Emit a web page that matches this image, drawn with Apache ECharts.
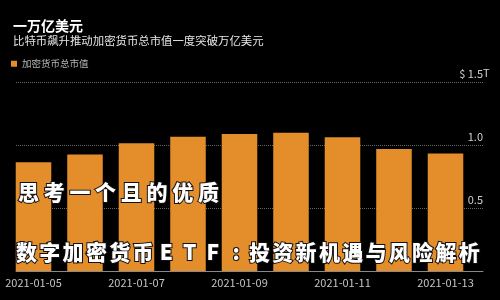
<!DOCTYPE html>
<html>
<head>
<meta charset="utf-8">
<script src="https://cdn.jsdelivr.net/npm/echarts@6/dist/echarts.min.js"></script>
<style>
html,body{margin:0;padding:0;background:#000;}
#c{width:500px;height:300px;}
</style>
</head>
<body>
<div id="c"></div>
<script>
var categories = ['2021-01-05','2021-01-06','2021-01-07','2021-01-08','2021-01-09','2021-01-10','2021-01-11','2021-01-12','2021-01-13'];
var marketCap = [0.865, 0.928, 1.016, 1.068, 1.090, 1.100, 1.064, 0.971, 0.936];
var seriesName = '加密货币总市值';
var yTicks = [0, 0.5, 1.0, 1.5];
var titleText = '一万亿美元';
var subtitleText = '比特币飙升推动加密货币总市值一度突破万亿美元';
var overlay1 = '思考一个且的优质';
var overlay2 = '数字加密货币ETF:投资新机遇与风险解析';

var font = '"Noto Sans CJK SC", "Noto Sans", sans-serif';

function spacedText(str, x0, yMid, step, size) {
  var chars = Array.from(str);
  return {
    type: 'group', z: 20,
    children: chars.map(function (ch, i) {
      return {
        type: 'text', x: x0 + size / 2 + i * step, y: yMid, z: 20,
        style: {text: ch, fill: '#fff', font: '900 ' + size + 'px ' + font,
          align: 'center', verticalAlign: 'middle',
          stroke: '#111', lineWidth: 2}
      };
    })
  };
}

var chart = echarts.init(document.getElementById('c'));
var yMax = yTicks[yTicks.length - 1];
chart.setOption({
  backgroundColor: '#000',
  animation: false,
  title: {
    text: titleText,
    subtext: subtitleText,
    left: 8, top: 14, itemGap: 2,
    textStyle: {color: '#fff', fontSize: 14, fontWeight: 'bold', fontFamily: font},
    subtextStyle: {color: '#e6e6e6', fontSize: 11.4, fontFamily: font}
  },
  legend: {
    data: [seriesName],
    left: 6, top: 54,
    icon: 'rect', itemWidth: 6, itemHeight: 6, itemGap: 4,
    textStyle: {color: '#b5b5b5', fontSize: 9.5, fontFamily: font}
  },
  grid: [
    {left: 7.75, right: 28.75, top: 82.5, bottom: 29},
    {left: 16, right: 17, top: 82.5, bottom: 29}
  ],
  xAxis: [
    {type: 'category', gridIndex: 0, data: categories,
     axisLine: {show: false}, axisTick: {show: false},
     axisLabel: {interval: 1, color: '#c4c4c4', fontSize: 11, margin: 6, fontFamily: font}},
    {type: 'value', gridIndex: 1, min: 0, max: 1,
     axisLine: {show: true, lineStyle: {color: '#8a8a8a', width: 1}},
     axisTick: {show: false}, axisLabel: {show: false}, splitLine: {show: false}}
  ],
  yAxis: [
    {type: 'value', gridIndex: 0, min: 0, max: yMax, interval: 0.5, show: false},
    {type: 'value', gridIndex: 1, position: 'right', min: 0, max: yMax, interval: 0.5,
     axisLine: {show: false}, axisTick: {show: false},
     splitLine: {show: true, lineStyle: {color: '#666', type: [1, 1], width: 1}},
     axisLabel: {inside: true, align: 'right', verticalAlign: 'bottom', margin: 0,
       padding: [0, 0, 3, 0], color: '#d0d0d0', fontSize: 11, fontFamily: font,
       formatter: function (v) {
         if (v === 0) return '';
         if (v === yMax) return '$ ' + v.toFixed(1);
         return v.toFixed(1);
       }}}
  ],
  series: [{
    name: seriesName, type: 'bar', xAxisIndex: 0, yAxisIndex: 0,
    data: marketCap, barWidth: '69%', z: 5,
    itemStyle: {color: '#e38d2b'}
  }],
  graphic: [
    {type: 'text', left: 483, top: 67, z: 10,
     style: {text: 'T', fill: '#d0d0d0', font: '11px ' + font}},
    spacedText(overlay1, 18, 192, 25.7, 21),
    spacedText(overlay2, 16, 252, 23.3, 21)
  ]
});
</script>
</body>
</html>
